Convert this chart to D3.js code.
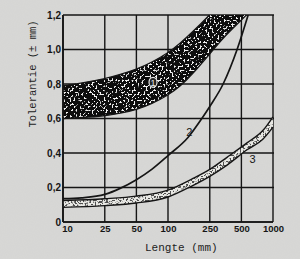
<!DOCTYPE html>
<html><head><meta charset="utf-8">
<script src="https://cdn.jsdelivr.net/npm/d3@7"></script>
<style>
html,body{margin:0;padding:0;background:#d7d7d5;}
svg{display:block;}
</style></head>
<body>
<script>
// ---- data ----
const xTickValues = [10, 25, 50, 100, 250, 500, 1000];
const xTickLabels = ["10", "25", "50", "100", "250", "500", "1000"];
const yTickValues = [0, 0.2, 0.4, 0.6, 0.8, 1.0, 1.2];
const yTickLabels = ["0", "0,2", "0,4", "0,6", "0,8", "1,0", "1,2"];

// band 1 (shaded region)
const band1X     = [10, 15, 25, 35, 50, 70, 100, 130, 170, 250, 350, 500, 600];
const band1Upper = [0.79, 0.805, 0.83, 0.855, 0.885, 0.925, 0.98, 1.035, 1.10, 1.20, 1.30, 1.42, 1.50];
const band1Lower = [0.60, 0.605, 0.615, 0.63, 0.65, 0.685, 0.735, 0.785, 0.855, 0.975, 1.08, 1.17, 1.22];

// curve 2
const curve2X = [10, 15, 25, 35, 50, 70, 100, 155, 210, 250, 335, 455, 580];
const curve2Y = [0.135, 0.14, 0.16, 0.195, 0.245, 0.305, 0.385, 0.49, 0.60, 0.67, 0.80, 1.00, 1.20];

// band 3 (narrow region)
const band3X     = [10, 25, 50, 100, 170, 250, 365, 570, 800, 1000];
const band3Lower = [0.085, 0.095, 0.11, 0.145, 0.21, 0.265, 0.33, 0.42, 0.48, 0.55];
const band3Upper = [0.125, 0.135, 0.15, 0.185, 0.25, 0.305, 0.375, 0.46, 0.53, 0.61];

const curveLabels = [
  {text: "2", x: 160, y: 0.50},
  {text: "3", x: 640, y: 0.34}
];

const W = 300, H = 259;
const m = {l: 63, r: 27, t: 15, b: 37};
const x = d3.scaleLog().domain([10, 1000]).range([m.l, W - m.r]);
const y = d3.scaleLinear().domain([0, 1.2]).range([H - m.b, m.t]);

const svg = d3.select("body").append("svg").attr("width", W).attr("height", H);
const defs = svg.append("defs");

// paper noise
const fp = defs.append("filter").attr("id", "paper").attr("x", 0).attr("y", 0).attr("width", 1).attr("height", 1);
fp.append("feTurbulence").attr("type", "fractalNoise").attr("baseFrequency", 0.9).attr("numOctaves", 2).attr("seed", 4).attr("result", "n");
fp.append("feColorMatrix").attr("in", "n").attr("type", "matrix")
  .attr("values", "0 0 0 0 0.6  0 0 0 0 0.6  0 0 0 0 0.59  0.3 0 0 0 -0.1").attr("result", "g");
fp.append("feComposite").attr("in", "g").attr("in2", "SourceGraphic").attr("operator", "over");

// white speckles on dark band
const f1 = defs.append("filter").attr("id", "spk1");
f1.append("feTurbulence").attr("type", "fractalNoise").attr("baseFrequency", 0.5).attr("numOctaves", 2).attr("seed", 7).attr("result", "n");
f1.append("feColorMatrix").attr("in", "n").attr("type", "matrix")
  .attr("values", "0 0 0 0 0.88  0 0 0 0 0.88  0 0 0 0 0.88  16 0 0 0 -9.2").attr("result", "w");
f1.append("feComposite").attr("in", "w").attr("in2", "SourceGraphic").attr("operator", "in").attr("result", "ws");
const fm1 = f1.append("feMerge");
fm1.append("feMergeNode").attr("in", "SourceGraphic");
fm1.append("feMergeNode").attr("in", "ws");

// dark speckles on light band
const f3 = defs.append("filter").attr("id", "spk3");
f3.append("feTurbulence").attr("type", "fractalNoise").attr("baseFrequency", 0.6).attr("numOctaves", 1).attr("seed", 11).attr("result", "n");
f3.append("feColorMatrix").attr("in", "n").attr("type", "matrix")
  .attr("values", "0 0 0 0 0.08  0 0 0 0 0.08  0 0 0 0 0.08  14 0 0 0 -7.2").attr("result", "b");
f3.append("feComposite").attr("in", "b").attr("in2", "SourceGraphic").attr("operator", "in").attr("result", "bs");
const fm3 = f3.append("feMerge");
fm3.append("feMergeNode").attr("in", "SourceGraphic");
fm3.append("feMergeNode").attr("in", "bs");

defs.append("clipPath").attr("id", "plot").append("rect")
  .attr("x", m.l).attr("y", m.t).attr("width", W - m.l - m.r).attr("height", H - m.t - m.b);
defs.append("clipPath").attr("id", "plot3").append("rect")
  .attr("x", m.l).attr("y", m.t).attr("width", W - m.l - m.r + 3).attr("height", H - m.t - m.b);

svg.append("rect").attr("width", W).attr("height", H).attr("fill", "#d7d7d5").attr("filter", "url(#paper)");

const ink = "#151515";

// gridlines
const grid = svg.append("g").attr("stroke", ink).attr("stroke-width", 1.4);
grid.selectAll(".hg").data(yTickValues).join("line")
  .attr("x1", m.l).attr("x2", d => d === 0 ? W - m.r : W - m.r + 1)
  .attr("y1", d => y(d)).attr("y2", d => y(d));
grid.selectAll(".vg").data(xTickValues).join("line")
  .attr("x1", d => x(d)).attr("x2", d => x(d))
  .attr("y1", y(0)).attr("y2", y(1.2));

const plot = svg.append("g").attr("clip-path", "url(#plot)");

// band 1
const b1 = band1X.map((v, i) => ({x: v, lo: band1Lower[i], hi: band1Upper[i]}));
plot.append("path").datum(b1)
  .attr("d", d3.area().x(d => x(d.x)).y0(d => y(d.lo)).y1(d => y(d.hi)).curve(d3.curveBasis))
  .attr("fill", "#111").attr("filter", "url(#spk1)");
["hi", "lo"].forEach(k => {
  plot.append("path").datum(b1)
    .attr("d", d3.line().x(d => x(d.x)).y(d => y(d[k])).curve(d3.curveBasis))
    .attr("fill", "none").attr("stroke", ink).attr("stroke-width", 1.3);
});

// curve 2
const c2 = curve2X.map((v, i) => ({x: v, y: curve2Y[i]}));
plot.append("path").datum(c2)
  .attr("d", d3.line().x(d => x(d.x)).y(d => y(d.y)).curve(d3.curveMonotoneX))
  .attr("fill", "none").attr("stroke", ink).attr("stroke-width", 1.7);

// band 3
const plot3 = svg.append("g").attr("clip-path", "url(#plot3)");
const b3 = band3X.map((v, i) => ({x: v, lo: band3Lower[i], hi: band3Upper[i]}));
plot3.append("path").datum(b3)
  .attr("d", d3.area().x(d => x(d.x)).y0(d => y(d.lo)).y1(d => y(d.hi)).curve(d3.curveMonotoneX))
  .attr("fill", "#e8e8e4").attr("filter", "url(#spk3)");
["hi", "lo"].forEach(k => {
  plot3.append("path").datum(b3)
    .attr("d", d3.line().x(d => x(d.x)).y(d => y(d[k])).curve(d3.curveMonotoneX))
    .attr("fill", "none").attr("stroke", ink).attr("stroke-width", 1.4);
});

// axes tick labels
const yAxis = d3.axisLeft(y).tickValues(yTickValues)
  .tickFormat((d, i) => yTickLabels[i]).tickSize(0).tickPadding(2);
const gy = svg.append("g").attr("transform", `translate(${m.l},0)`).call(yAxis);
gy.select(".domain").remove();
gy.selectAll("text").attr("font-family", "Liberation Sans, Arial, sans-serif")
  .attr("font-weight", "bold").attr("font-size", 10).attr("fill", ink);

const xAxis = d3.axisBottom(x).tickValues(xTickValues)
  .tickFormat((d, i) => xTickLabels[i]).tickSize(0).tickPadding(3);
const gx = svg.append("g").attr("transform", `translate(0,${y(0)})`).call(xAxis);
gx.select(".domain").remove();
gx.selectAll("text").attr("font-family", "Liberation Sans, Arial, sans-serif")
  .attr("font-weight", "bold").attr("font-size", 9.5).attr("fill", ink)
  .attr("dx", (d, i) => i === 0 ? 4 : 0);

// axis lines (thicker)
svg.append("line").attr("x1", m.l).attr("x2", m.l).attr("y1", y(0)).attr("y2", y(1.2))
  .attr("stroke", ink).attr("stroke-width", 1.7);
svg.append("line").attr("x1", m.l).attr("x2", W - m.r).attr("y1", y(0)).attr("y2", y(0))
  .attr("stroke", ink).attr("stroke-width", 1.7);

// curve labels
svg.selectAll(".cl").data(curveLabels).join("text")
  .attr("x", d => x(d.x)).attr("y", d => y(d.y))
  .attr("font-family", "Liberation Sans, Arial, sans-serif").attr("font-size", 11)
  .attr("fill", ink).attr("text-anchor", "middle").text(d => d.text);

// circled 1
const c1x = x(72), c1y = y(0.81);
svg.append("ellipse").attr("cx", c1x).attr("cy", c1y).attr("rx", 4).attr("ry", 5)
  .attr("fill", "#222").attr("stroke", "#e6e6e6").attr("stroke-width", 1.2);
svg.append("text").attr("x", c1x).attr("y", c1y + 3.5).attr("text-anchor", "middle")
  .attr("font-family", "Liberation Sans, Arial, sans-serif").attr("font-size", 9)
  .attr("fill", "#e6e6e6").text("1");

// axis titles
svg.append("text").attr("transform", "translate(36,74) rotate(-90)")
  .attr("text-anchor", "middle").attr("font-family", "Liberation Mono, DejaVu Sans Mono, monospace")
  .attr("font-size", 10.5).attr("fill", "#222").text("Tolerantie (± mm)");
svg.append("text").attr("x", 145).attr("y", 251)
  .attr("font-family", "Liberation Mono, DejaVu Sans Mono, monospace")
  .attr("font-size", 11).attr("fill", "#222").text("Lengte (mm)");
</script>
</body></html>
